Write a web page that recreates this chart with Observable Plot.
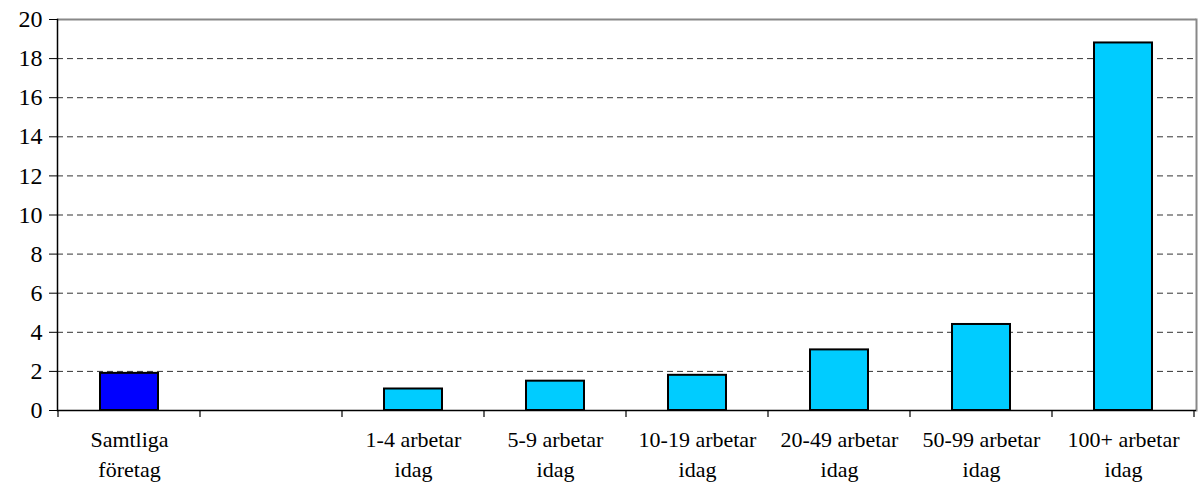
<!DOCTYPE html>
<html><head><meta charset="utf-8">
<script src="https://cdn.jsdelivr.net/npm/d3@7"></script>
<script src="https://cdn.jsdelivr.net/npm/@observablehq/plot@0.6"></script>
<style>
html,body{margin:0;padding:0;background:#fff;}
</style>
</head><body><div id="chart"></div>
<script>
const categories = ["Samtliga företag", "", "1-4 arbetar idag", "5-9 arbetar idag", "10-19 arbetar idag", "20-49 arbetar idag", "50-99 arbetar idag", "100+ arbetar idag"];
const tickLabels = ["Samtliga\nföretag", "", "1-4 arbetar\nidag", "5-9 arbetar\nidag", "10-19 arbetar\nidag", "20-49 arbetar\nidag", "50-99 arbetar\nidag", "100+ arbetar\nidag"];
const values = [1.9, null, 1.1, 1.5, 1.8, 3.1, 4.4, 18.8];
const colors = ["#0000ff", null, "#00ccff", "#00ccff", "#00ccff", "#00ccff", "#00ccff", "#00ccff"];
const yTicks = [0, 2, 4, 6, 8, 10, 12, 14, 16, 18, 20];

const FONT = "Liberation Serif";

const data = categories.map((c, i) => ({cat: c, value: values[i], color: colors[i]}))
  .filter(d => d.value != null);

function boundaryTicks(index, scales, values, dims) {
  const x = scales.x;
  const g = d3.create("svg:g");
  const y0 = dims.height - dims.marginBottom;
  const bounds = categories.map(c => x(c) - (x.step() - x.bandwidth()) / 2);
  bounds.push(bounds[bounds.length - 1] + x.step());
  for (const b of bounds) {
    g.append("line").attr("x1", b).attr("x2", b).attr("y1", y0).attr("y2", y0 + 7)
      .attr("stroke", "#000").attr("stroke-width", 1.2);
  }
  return g.node();
}

const chart = Plot.plot({
  width: 1204,
  height: 490,
  marginLeft: 57,
  marginRight: 8,
  marginTop: 19,
  marginBottom: 80,
  style: {fontSize: "20px", color: "#000", background: "#fff", fontFamily: FONT},
  x: {domain: categories, paddingInner: 0.59, paddingOuter: 0.295, align: 0.5},
  y: {domain: [0, 20]},
  marks: [
    Plot.gridY(yTicks.filter(t => t > 0 && t < 20), {stroke: "#000", strokeOpacity: 0.8, strokeDasharray: "6,4", strokeWidth: 1}),
    Plot.ruleY([20], {stroke: "#888", strokeWidth: 2}),
    Plot.frame({anchor: "right", stroke: "#888", strokeWidth: 2}),
    Plot.barY(data, {x: "cat", y: "value", fill: d => d.color, stroke: "#000", strokeWidth: 2}),
    Plot.ruleY([0], {stroke: "#000", strokeWidth: 1.5}),
    Plot.frame({anchor: "left", stroke: "#000", strokeWidth: 1.5}),
    Plot.axisY({ticks: yTicks, tickSize: 8, tickPadding: 7, fontSize: 24, fontFamily: FONT, tickFormat: d => String(d), label: null}),
    Plot.axisX({tickSize: 0, tickPadding: 15, fontSize: 22, fontFamily: FONT, lineHeight: 1.36, tickFormat: d => tickLabels[categories.indexOf(d)], label: null}),
    boundaryTicks
  ]
});
chart.style.setProperty("font-family", FONT, "important");
chart.querySelectorAll("g, text, tspan").forEach(el => {
  el.style.setProperty("font-family", FONT, "important");
});
document.getElementById("chart").appendChild(chart);
</script>
</body></html>
